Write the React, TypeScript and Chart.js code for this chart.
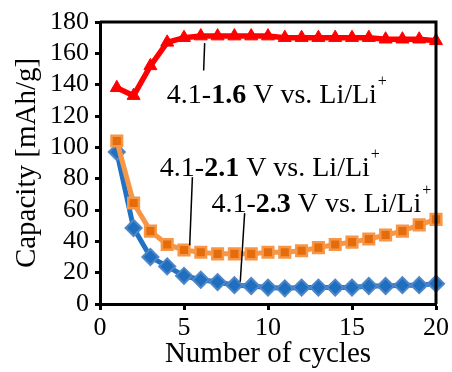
import React, { useEffect, useRef } from "react";
import { Chart, registerables } from "chart.js";

Chart.register(...registerables);

const cycles = [1, 2, 3, 4, 5, 6, 7, 8, 9, 10, 11, 12, 13, 14, 15, 16, 17, 18, 19, 20];
const cap16 = [138, 133, 152, 167, 170, 171, 171, 171, 171, 171, 170, 170, 170, 170, 170, 170, 169, 169, 169, 168];
const cap21 = [104, 64.5, 46.5, 38, 34.5, 33, 32, 32, 32, 33, 33, 34, 36, 38, 39.5, 41.5, 44, 46.5, 50.5, 54];
const cap23 = [97, 48.5, 30, 24, 18, 15.5, 14, 12, 11.5, 10.5, 10, 10.5, 10.5, 10.5, 10.5, 11.5, 11.5, 12, 12, 13];
const xTicks = [0, 5, 10, 15, 20];
const yTicks = [0, 20, 40, 60, 80, 100, 120, 140, 160, 180];

// annotation labels: [prefix, bold, suffix], anchor in data units, leader line in data units
const labels = [
  { pre: "4.1-", bold: "1.6", post: " V vs. Li/Li", x: 3.98, y: 128, lx1: 6.23, ly1: 166.5, lx2: 6.17, ly2: 149 },
  { pre: "4.1-", bold: "2.1", post: " V vs. Li/Li", x: 3.56, y: 82, lx1: 5.5, ly1: 81, lx2: 5.34, ly2: 37.5 },
  { pre: "4.1-", bold: "2.3", post: " V vs. Li/Li", x: 6.63, y: 58.5, lx1: 8.61, ly1: 58, lx2: 8.35, ly2: 14.2 },
];

const FONT = "'Liberation Serif', 'Times New Roman', serif";

const annotPlugin = {
  id: "annot",
  afterDraw(chart: any) {
    const { ctx, chartArea, scales } = chart;
    const xs = scales.x;
    const ys = scales.y;
    ctx.save();
    // box
    ctx.strokeStyle = "#000";
    ctx.lineWidth = 3;
    ctx.beginPath();
    ctx.moveTo(chartArea.left, chartArea.top);
    ctx.lineTo(chartArea.right, chartArea.top);
    ctx.lineTo(chartArea.right, chartArea.bottom);
    ctx.stroke();
    // labels
    ctx.fillStyle = "#000";
    ctx.textBaseline = "alphabetic";
    ctx.textAlign = "left";
    for (const l of labels) {
      let px = xs.getPixelForValue(l.x);
      const py = ys.getPixelForValue(l.y);
      ctx.font = `28px ${FONT}`;
      ctx.fillText(l.pre, px, py);
      px += ctx.measureText(l.pre).width;
      ctx.font = `bold 28px ${FONT}`;
      ctx.fillText(l.bold, px, py);
      px += ctx.measureText(l.bold).width;
      ctx.font = `28px ${FONT}`;
      ctx.fillText(l.post, px, py);
      px += ctx.measureText(l.post).width;
      ctx.font = `16px ${FONT}`;
      ctx.fillText("+", px + 1, py - 17);
      ctx.lineWidth = 1.5;
      ctx.beginPath();
      ctx.moveTo(xs.getPixelForValue(l.lx1), ys.getPixelForValue(l.ly1));
      ctx.lineTo(xs.getPixelForValue(l.lx2), ys.getPixelForValue(l.ly2));
      ctx.stroke();
    }
    ctx.restore();
  },
};

export default function App() {
  const ref = useRef<HTMLCanvasElement>(null);
  useEffect(() => {
    document.body.style.margin = "0";
    const mk = (v: number[]) => cycles.map((c, i) => ({ x: c, y: v[i] }));
    const chart = new Chart(ref.current!, {
      type: "line",
      data: {
        datasets: [
          {
            data: mk(cap16),
            borderColor: "#FF0000",
            backgroundColor: "#FF0000",
            borderWidth: 5.5,
            pointStyle: "triangle",
            pointRadius: 7.5,
            pointBorderWidth: 1,
            pointBorderColor: "#FF0000",
            pointBackgroundColor: "#FF0000",
            clip: false as any,
          },
          {
            data: mk(cap21),
            borderColor: "#F79646",
            backgroundColor: "#E46C0A",
            borderWidth: 5,
            pointStyle: "rect",
            pointRadius: 7.5,
            pointBorderWidth: 2.5,
            pointBorderColor: "#F79646",
            pointBackgroundColor: "#E46C0A",
            clip: false as any,
          },
          {
            data: mk(cap23),
            borderColor: "#1F72C4",
            backgroundColor: "#1F72C4",
            borderWidth: 5,
            pointStyle: "rectRot",
            pointRadius: 8,
            pointBorderWidth: 2,
            pointBorderColor: "#4F86C6",
            pointBackgroundColor: "#1F6FC0",
            clip: false as any,
          },
        ],
      },
      options: {
        animation: false,
        responsive: false,
        maintainAspectRatio: false,
        layout: { padding: { left: 0, right: 15, top: 22, bottom: 0 } },
        plugins: { legend: { display: false }, tooltip: { enabled: false } },
        elements: { line: { tension: 0 } },
        scales: {
          x: {
            type: "linear",
            min: 0,
            max: 20,
            afterBuildTicks: (s: any) => {
              s.ticks = xTicks.map((v) => ({ value: v }));
            },
            afterFit: (s: any) => {
              s.height = 68;
            },
            grid: { drawOnChartArea: false, drawTicks: true, tickLength: 6, tickWidth: 3, color: "#000" },
            border: { display: true, color: "#000", width: 3 },
            ticks: { color: "#000", font: { family: FONT, size: 26 }, padding: 3, maxRotation: 0, autoSkip: false },
            title: {
              display: true,
              text: "Number of cycles",
              color: "#000",
              font: { family: FONT, size: 29 },
              padding: { top: 5, bottom: 0 },
            },
          },
          y: {
            type: "linear",
            min: 0,
            max: 180,
            afterBuildTicks: (s: any) => {
              s.ticks = yTicks.map((v) => ({ value: v }));
            },
            afterFit: (s: any) => {
              s.width = 100;
            },
            grid: { drawOnChartArea: false, drawTicks: true, tickLength: 5, tickWidth: 3, color: "#000" },
            border: { display: true, color: "#000", width: 3 },
            ticks: { color: "#000", font: { family: FONT, size: 26 }, padding: 6, autoSkip: false },
            title: {
              display: true,
              text: "Capacity [mAh/g]",
              color: "#000",
              font: { family: FONT, size: 29 },
              padding: { top: 10, bottom: 0 },
            },
          },
        },
      } as any,
      plugins: [annotPlugin],
    });
    return () => chart.destroy();
  }, []);
  return (
    <div style={{ position: "absolute", left: 0, top: 0, width: 452, height: 372, background: "#fff" }}>
      <canvas ref={ref} width={452} height={372} style={{ width: 452, height: 372 }} />
    </div>
  );
}
